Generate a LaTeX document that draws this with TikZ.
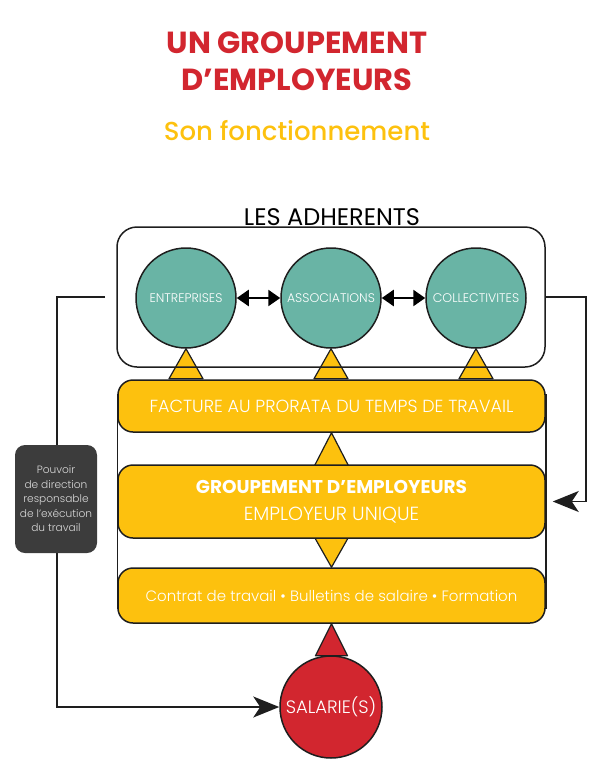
\documentclass[tikz,border=0pt]{standalone}
\usepackage{fontspec}
\setmainfont{Poppins}
\IfFontExistsTF{Poppins Light}{\newfontfamily\thinfont{Poppins Light}}{\newfontfamily\thinfont{Poppins}}
\IfFontExistsTF{Poppins Medium}{\newfontfamily\midfont{Poppins Medium}}{\newfontfamily\midfont{Poppins}}
\usetikzlibrary{arrows.meta,backgrounds,positioning}

\definecolor{titlered}{HTML}{D2262F}
\definecolor{gold}{HTML}{FDC10E}
\definecolor{sea}{HTML}{69B4A5}
\definecolor{slate}{HTML}{3C3C3C}
\definecolor{ink}{HTML}{1E1E1E}

\begin{document}
\begin{tikzpicture}[x=1pt,y=-1pt,
  member/.style={circle, draw=ink, line width=1.5pt, fill=sea, minimum size=100pt,
    inner sep=0pt, text=white, font=\thinfont\fontsize{12.5}{14}\selectfont},
  band/.style={rounded corners=15pt, draw=ink, line width=1.5pt, fill=gold,
    minimum width=427pt, inner sep=0pt, text=white, align=center},
  wedge/.style={draw=ink, line width=1.2pt, fill=gold, line join=round},
  swap/.style={line width=2.5pt, {Triangle[length=12pt,width=16pt]}-{Triangle[length=12pt,width=16pt]}},
  link/.style={draw=ink, line width=1.8pt, -{Stealth[length=26pt,width=21pt,inset=7pt]}}]
\useasboundingbox (0,0) rectangle (595,777);

% titre
\node[text=titlered, font=\bfseries\fontsize{30.5}{32}\selectfont] (t1) at (297,43) {UN GROUPEMENT};
\node[text=titlered, font=\bfseries\fontsize{30.5}{32}\selectfont] (t2) at (297,80) {D’EMPLOYEURS};
\node[text=gold, font=\midfont\fontsize{26}{28}\selectfont] (t3) at (297,131) {Son fonctionnement};

% adherents
\draw[ink, line width=1.5pt, rounded corners=20pt] (117,227) rectangle (545,367);
\node[anchor=base, inner sep=0pt, font=\fontsize{24}{26}\selectfont] (adh) at (332,225.5) {LES ADHERENTS};
\node[member] (ent) at (186,298) {ENTREPRISES};
\node[member] (ass) at (331,298) {ASSOCIATIONS};
\node[member] (col) at (476,298) {COLLECTIVITES};
\draw[swap] (ent) -- (ass);
\draw[swap] (ass) -- (col);

% bandes
\node[band, minimum height=52pt, font=\thinfont\fontsize{17.5}{19}\selectfont] (fact) at (331.5,406) {FACTURE AU PRORATA DU TEMPS DE TRAVAIL};
\node[band, minimum height=73pt] (grp) at (331.5,501.5)
  {{\bfseries\fontsize{18.5}{20}\selectfont GROUPEMENT D’EMPLOYEURS}\\[12pt]
   {\thinfont\fontsize{19}{20}\selectfont EMPLOYEUR UNIQUE}};
\node[band, minimum height=55pt, font=\thinfont\fontsize{15}{17}\selectfont] (ctr) at (331.5,595.5)
  {Contrat de travail \textbullet{} Bulletins de salaire \textbullet{} Formation};

\node[circle, draw=ink, line width=1.5pt, fill=titlered, minimum size=102pt, inner sep=0pt,
  text=white, font=\thinfont\fontsize{18}{20}\selectfont] (sal) at (331,707) {SALARIE(S)};

\node[rounded corners=10pt, fill=slate, minimum width=82pt, minimum height=108pt, inner sep=0pt,
  align=center, text=white!85!black, font=\thinfont\fontsize{10.6}{14.5}\selectfont] (pouv) at (56,499)
  {Pouvoir\\de direction\\responsable\\de l’exécution\\du travail};

\coordinate (lstart) at (105,297);
\coordinate (rstart) at (546,297);

\begin{scope}[on background layer]
  \draw[ink, line width=1.5pt] ([yshift=-15pt]fact.north west) -- ([yshift=15pt]ctr.south west);
  \draw[ink, line width=1.5pt] ([yshift=-15pt]fact.north east) -- ([yshift=15pt]ctr.south east);
  \foreach \c in {ent,ass,col}
    \draw[wedge] (\c.south) -- ++(-17,30) -- ++(34,0) -- cycle;
  \draw[wedge] (fact.south) -- ++(-17,33) -- ++(34,0) -- cycle;
  \draw[wedge] (ctr.north) -- ++(-17,-30) -- ++(34,0) -- cycle;
  \draw[wedge, fill=titlered] (ctr.south) -- ++(-16,32) -- ++(32,0) -- cycle;
  \draw[link] (lstart) -- (57,297) |- (sal.west);
  \draw[link, shorten >=7pt] (rstart) -- (586,297) |- (grp.east);
\end{scope}
\end{tikzpicture}
\end{document}
